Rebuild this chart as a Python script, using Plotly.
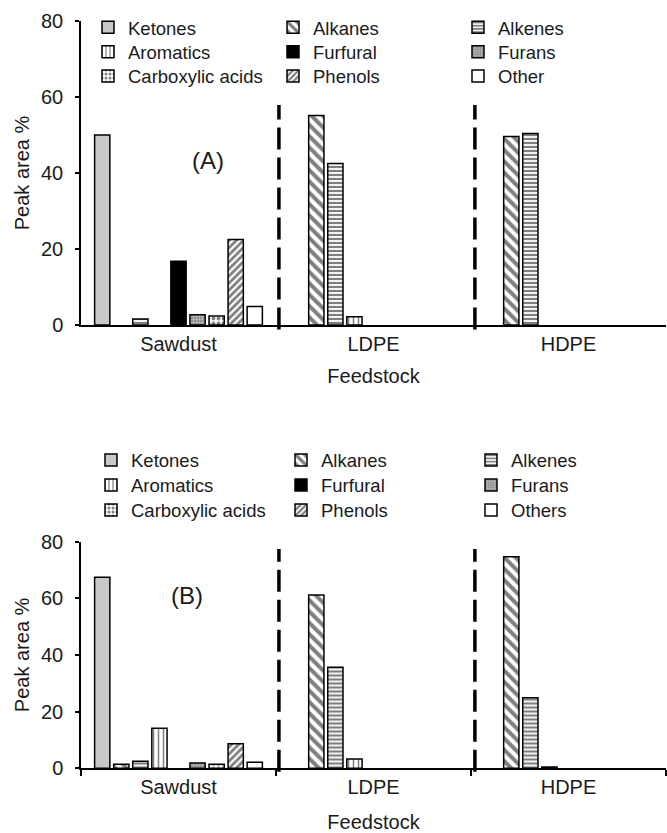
import plotly.graph_objects as go

categories = ["Sawdust", "LDPE", "HDPE"]

series_a = ["Ketones", "Alkanes", "Alkenes", "Aromatics", "Furfural",
            "Furans", "Carboxylic acids", "Phenols", "Other"]
series_b = ["Ketones", "Alkanes", "Alkenes", "Aromatics", "Furfural",
            "Furans", "Carboxylic acids", "Phenols", "Others"]

# None = no bar drawn for that feedstock
ketones_a = [50.0, None, None]
alkanes_a = [None, 55.1, 49.6]
alkenes_a = [1.6, 42.5, 50.4]
aromatics_a = [None, 2.2, None]
furfural_a = [16.8, None, None]
furans_a = [2.7, None, None]
carboxylic_a = [2.4, None, None]
phenols_a = [22.5, None, None]
other_a = [4.9, None, None]

ketones_b = [67.4, None, None]
alkanes_b = [1.4, 61.1, 74.6]
alkenes_b = [2.5, 35.6, 24.9]
aromatics_b = [14.1, 3.3, 0.5]
furfural_b = [None, None, None]
furans_b = [1.9, None, None]
carboxylic_b = [1.4, None, None]
phenols_b = [8.7, None, None]
others_b = [2.1, None, None]

y_ticks = [0, 20, 40, 60, 80]

values_a = [ketones_a, alkanes_a, alkenes_a, aromatics_a, furfural_a,
            furans_a, carboxylic_a, phenols_a, other_a]
values_b = [ketones_b, alkanes_b, alkenes_b, aromatics_b, furfural_b,
            furans_b, carboxylic_b, phenols_b, others_b]

FONT = "Liberation Sans, Arial, sans-serif"
TXT = "#1a1a1a"

styles = [
    dict(color="#c8c8c8", pattern=dict(shape="")),
    dict(color="white", pattern=dict(shape="\\", fgcolor="black", size=8, solidity=0.5, fillmode="overlay")),
    dict(color="white", pattern=dict(shape="-", fgcolor="black", size=4, solidity=0.55, fillmode="overlay")),
    dict(color="white", pattern=dict(shape="|", fgcolor="black", size=5, solidity=0.3, fillmode="overlay")),
    dict(color="black", pattern=dict(shape="")),
    dict(color="#8c8c8c", pattern=dict(shape=".", fgcolor="white", size=3, solidity=0.4, fillmode="overlay")),
    dict(color="white", pattern=dict(shape=".", fgcolor="black", size=5, solidity=0.45, fillmode="overlay")),
    dict(color="white", pattern=dict(shape="/", fgcolor="black", size=5, solidity=0.55, fillmode="overlay")),
    dict(color="white", pattern=dict(shape="")),
]

fig = go.Figure()

legend_ids_a = ["legend", "legend2", "legend3"]
legend_ids_b = ["legend4", "legend5", "legend6"]

for i, (name, vals, st) in enumerate(zip(series_a, values_a, styles)):
    fig.add_trace(go.Bar(
        x=categories, y=vals, name=name, xaxis="x", yaxis="y",
        legend=legend_ids_a[i // 3],
        marker=dict(color=st["color"], pattern=st["pattern"],
                    line=dict(color="black", width=1.5)),
    ))

for i, (name, vals, st) in enumerate(zip(series_b, values_b, styles)):
    fig.add_trace(go.Bar(
        x=categories, y=vals, name=name, xaxis="x2", yaxis="y2",
        legend=legend_ids_b[i // 3],
        marker=dict(color=st["color"], pattern=st["pattern"],
                    line=dict(color="black", width=1.5)),
    ))

xdom = [81 / 667, 666 / 667]
ytop = [1 - 325 / 833, 1 - 21 / 833]
ybot = [1 - 768.3 / 833, 1 - 541.5 / 833]

common_x = dict(
    type="category", categoryorder="array", categoryarray=categories,
    range=[-0.5, 2.5], showline=True, linecolor="black", linewidth=1.5,
    showgrid=False, zeroline=False, tickson="boundaries", automargin=False,
    tickfont=dict(family=FONT, size=20, color=TXT),
    fixedrange=True,
)
common_y = dict(
    range=[0, 80], tickvals=y_ticks, showline=True, linecolor="black",
    linewidth=1.5, showgrid=False, zeroline=False, ticks="outside",
    ticklen=4, tickcolor="black", tickwidth=1.5, automargin=False,
    tickfont=dict(family=FONT, size=20, color=TXT),
    title=dict(text="Peak area %", font=dict(family=FONT, size=20, color=TXT), standoff=6),
    ticklabelstandoff=8, fixedrange=True,
)


def legend_row(x_left_px, center_px, entrywidth):
    return dict(orientation="h", x=x_left_px / 667, xanchor="left",
                y=1 - (center_px - 19.5) / 833, yanchor="top",
                entrywidth=entrywidth, font=dict(family=FONT, size=18.5, color=TXT),
                bgcolor="rgba(0,0,0,0)", traceorder="normal", itemclick=False,
                itemdoubleclick=False)


fig.update_layout(
    width=667, height=833,
    margin=dict(l=0, r=0, t=0, b=0),
    paper_bgcolor="white", plot_bgcolor="white",
    barmode="group", bargap=0.12, bargroupgap=0.2,
    font=dict(family=FONT, color=TXT),
    xaxis=dict(domain=xdom, anchor="y", ticks="",
               title=dict(text="Feedstock", font=dict(family=FONT, size=20, color=TXT), standoff=15),
               **common_x),
    yaxis=dict(domain=ytop, anchor="x", **common_y),
    xaxis2=dict(domain=xdom, anchor="y2", ticks="outside", ticklen=6, tickcolor="black", tickwidth=1.5,
                title=dict(text="Feedstock", font=dict(family=FONT, size=20, color=TXT), standoff=20),
                **common_x),
    yaxis2=dict(domain=ybot, anchor="x2", **common_y),
    legend=legend_row(88, 28.3, 140),
    legend2=legend_row(88, 52.6, 140),
    legend3=legend_row(88, 77.0, 140),
    legend4=legend_row(91, 461, 145),
    legend5=legend_row(91, 486, 145),
    legend6=legend_row(91, 511, 145),
    showlegend=True,
)

# panel labels
fig.add_annotation(text="(A)", xref="paper", yref="paper", x=208 / 667, y=1 - 161 / 833,
                   xanchor="center", yanchor="middle",
                   showarrow=False, font=dict(family=FONT, size=24, color=TXT))
fig.add_annotation(text="(B)", xref="paper", yref="paper", x=187 / 667, y=1 - 595 / 833,
                   xanchor="center", yanchor="middle",
                   showarrow=False, font=dict(family=FONT, size=24, color=TXT))

# dashed separators between feedstocks
for xr, yr, ytopfrac in [("x", "y domain", 0.724), ("x2", "y2 domain", 0.967)]:
    for xb in (0.515, 1.52):
        fig.add_shape(type="line", xref=xr, yref=yr, x0=xb, x1=xb, y0=-0.015, y1=ytopfrac,
                      line=dict(color="black", width=3.5, dash="22px,8px"))

fig.write_html("out.html")
